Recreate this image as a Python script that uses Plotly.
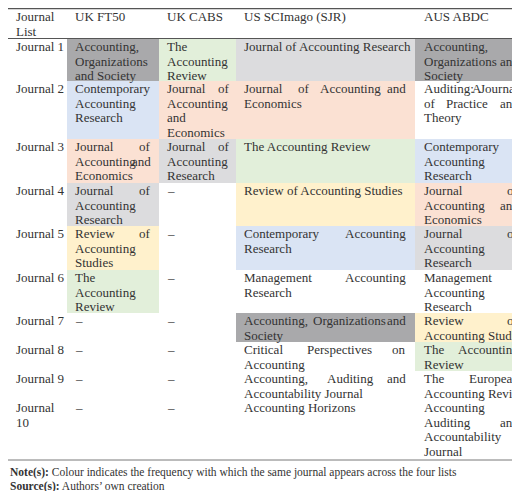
import plotly.graph_objects as go

# column headers and row labels
headers = [["Journal", "List"], ["UK FT50"], ["UK CABS"], ["US SCImago (SJR)"], ["AUS ABDC"]]
row_labels = [["Journal 1"], ["Journal 2"], ["Journal 3"], ["Journal 4"], ["Journal 5"],
              ["Journal 6"], ["Journal 7"], ["Journal 8"], ["Journal 9"], ["Journal", "10"]]

# each cell: (wrapped lines, colour key)
uk_ft50 = [
    (["Accounting,", "Organizations", "and Society"], "dark"),
    (["Contemporary", "Accounting", "Research"], "blue"),
    (["Journal of", "Accounting and", "Economics"], "peach"),
    (["Journal of", "Accounting", "Research"], "grey"),
    (["Review of", "Accounting", "Studies"], "yellow"),
    (["The", "Accounting", "Review"], "green"),
    (["–"], None), (["–"], None), (["–"], None), (["–"], None),
]
uk_cabs = [
    (["The", "Accounting", "Review"], "green"),
    (["Journal of", "Accounting", "and", "Economics"], "peach"),
    (["Journal of", "Accounting", "Research"], "grey"),
    (["–"], None), (["–"], None), (["–"], None), (["–"], None),
    (["–"], None), (["–"], None), (["–"], None),
]
us_sjr = [
    (["Journal of Accounting Research"], "grey"),
    (["Journal of Accounting and", "Economics"], "peach"),
    (["The Accounting Review"], "green"),
    (["Review of Accounting Studies"], "yellow"),
    (["Contemporary Accounting", "Research"], "blue"),
    (["Management Accounting", "Research"], None),
    (["Accounting, Organizations and", "Society"], "dark"),
    (["Critical Perspectives on", "Accounting"], None),
    (["Accounting, Auditing and", "Accountability Journal"], None),
    (["Accounting Horizons"], None),
]
aus_abdc = [
    (["Accounting,", "Organizations and", "Society"], "dark"),
    (["Auditing: A Journal", "of Practice and", "Theory"], None),
    (["Contemporary", "Accounting", "Research"], "blue"),
    (["Journal of", "Accounting and", "Economics"], "peach"),
    (["Journal of", "Accounting", "Research"], "grey"),
    (["Management", "Accounting", "Research"], None),
    (["Review of", "Accounting Studies"], "yellow"),
    (["The Accounting", "Review"], "green"),
    (["The European", "Accounting Review"], None),
    (["Accounting", "Auditing and", "Accountability", "Journal"], None),
]
note_text = "<b>Note(s):</b> Colour indicates the frequency with which the same journal appears across the four lists"
source_text = "<b>Source(s):</b> Authors’ own creation"

colours = {"dark": "#a9a9ab", "grey": "#dcdcde", "blue": "#dae4f4",
           "peach": "#fbe1d3", "yellow": "#fff1cc", "green": "#e2efda"}

# layout (pixels)
W, H = 520, 491
col_edges = [0, 59, 151, 228, 407, 520]
text_pad = [(6, 2), (6, 6), (6, 4), (6, 7), (7, 7)]
row_edges = [1, 31, 73, 131, 175, 218, 262, 305, 334, 363, 392, 452]
line_h = 14.5
fs = 13
font = dict(family="Liberation Serif", size=fs, color="#333333")

fig = go.Figure(go.Scatter(x=[0, W], y=[0, H], mode="markers", marker=dict(opacity=0),
                           hoverinfo="skip", showlegend=False))
shapes, annotations = [], []


def est_width(word):
    # rough Times-like advance widths
    w = 0
    for ch in word:
        if ch in "iljtf,.:'’ ":
            w += 0.28
        elif ch in "rs":
            w += 0.38
        elif ch in "mwMW":
            w += 0.78
        elif ch.isupper():
            w += 0.68
        else:
            w += 0.48
    return w * fs


def add_cell(lines, col, row, colour=None):
    x0, x1 = col_edges[col], col_edges[col + 1]
    y0, y1 = row_edges[row], row_edges[row + 1]
    if colour:
        shapes.append(dict(type="rect", xref="x", yref="y", x0=x0, x1=x1, y0=y0, y1=y1,
                           fillcolor=colours[colour], line_width=0, layer="below"))
    left = x0 + text_pad[col][0]
    right = x1 - text_pad[col][1]
    for i, line in enumerate(lines):
        yc = y0 + 7.5 + i * line_h
        words = line.split(" ")
        justify = i < len(lines) - 1 and len(words) > 1
        if not justify:
            annotations.append(dict(x=left, y=yc, xref="x", yref="y", text=line, showarrow=False,
                                    xanchor="left", yanchor="middle", font=font))
            continue
        widths = [est_width(w) for w in words]
        gap = (right - left - sum(widths)) / (len(words) - 1)
        pos = left
        for k, w in enumerate(words):
            if k == len(words) - 1:
                annotations.append(dict(x=right, y=yc, xref="x", yref="y", text=w, showarrow=False,
                                        xanchor="right", yanchor="middle", font=font))
            else:
                annotations.append(dict(x=pos, y=yc, xref="x", yref="y", text=w, showarrow=False,
                                        xanchor="left", yanchor="middle", font=font))
            pos += widths[k] + gap


for c, h in enumerate(headers):
    add_cell(h, c, 0)
for r, lab in enumerate(row_labels):
    add_cell(lab, 0, r + 1)
for c, col in enumerate([uk_ft50, uk_cabs, us_sjr, aus_abdc]):
    for r, (lines, colour) in enumerate(col):
        add_cell(lines, c + 1, r + 1, colour)

for y, wdt in [(0.5, 1.5), (30.5, 1.2), (452, 0.8)]:
    shapes.append(dict(type="line", xref="x", yref="y", x0=0, x1=W, y0=y, y1=y,
                       line=dict(color="#555555", width=wdt)))

for y, t in [(464, note_text), (478, source_text)]:
    annotations.append(dict(x=0, y=y, xref="x", yref="y", text=t, showarrow=False,
                            xanchor="left", yanchor="middle",
                            font=dict(family="Liberation Serif", size=11.5, color="#333333")))

fig.update_layout(width=W, height=H, margin=dict(l=0, r=0, t=0, b=0),
                  plot_bgcolor="white", paper_bgcolor="white",
                  xaxis=dict(range=[0, W], visible=False, fixedrange=True),
                  yaxis=dict(range=[H, 0], visible=False, fixedrange=True),
                  shapes=shapes, annotations=annotations)
fig.write_html("out.html")
